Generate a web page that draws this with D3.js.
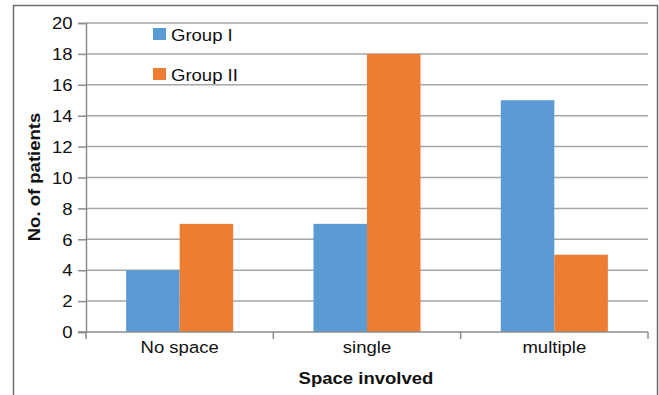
<!DOCTYPE html>
<html>
<head>
<meta charset="utf-8">
<script src="https://cdn.jsdelivr.net/npm/d3@7"></script>
<style>
  html, body { margin: 0; padding: 0; background: #fff; }
  svg { display: block; font-family: "Liberation Sans", Arial, sans-serif; }
</style>
</head>
<body>
<svg id="chart" width="659" height="395"></svg>
<script>
// Patient counts by number of spaces involved
const categories = ["No space", "single", "multiple"];
const seriesNames = ["Group I", "Group II"];
const groupI = [4, 7, 15];
const groupII = [7, 18, 5];
const yTicks = [0, 2, 4, 6, 8, 10, 12, 14, 16, 18, 20];

const colors = ["#5B9BD5", "#ED7D31"];
const series = [groupI, groupII];
const fontSize = 17;
const stretch = 1.09; // text is drawn slightly wide

const svg = d3.select("#chart");
const plot = { left: 86, right: 648, top: 23, bottom: 332 };

// place a text at (x, y) with the horizontal stretch applied
function label(parent, x, y, str, opts = {}) {
  const t = parent.append("text")
    .attr("transform", `translate(${x},${y})${opts.rotate ? " rotate(-90)" : ""} scale(${stretch},1)`)
    .attr("text-anchor", opts.anchor || "start")
    .attr("font-size", fontSize)
    .attr("fill", "#111")
    .text(str);
  if (opts.bold) t.attr("font-weight", "bold");
  return t;
}

// outer frame (open at the bottom)
svg.append("path")
  .attr("d", "M13.5,395 L13.5,5.5 L657.5,5.5 L657.5,395")
  .attr("fill", "none")
  .attr("stroke", "#6b6b6b")
  .attr("stroke-width", 1.5);

const x = d3.scaleBand().domain(categories).range([plot.left, plot.right]).padding(0);
const inner = d3.scaleBand().domain(seriesNames).range([0, x.bandwidth()])
  .paddingInner(0).paddingOuter(0.75);
const y = d3.scaleLinear().domain([0, 20]).range([plot.bottom, plot.top]);

// horizontal gridlines
svg.append("g").selectAll("line").data(yTicks.filter(d => d > 0)).join("line")
  .attr("x1", plot.left).attr("x2", plot.right)
  .attr("y1", d => y(d)).attr("y2", d => y(d))
  .attr("stroke", "#a6a6a6").attr("stroke-width", 1.5);

// bars
seriesNames.forEach((name, si) => {
  svg.append("g").selectAll("rect").data(categories).join("rect")
    .attr("x", c => x(c) + inner(name))
    .attr("width", inner.bandwidth())
    .attr("y", (c, i) => y(series[si][i]))
    .attr("height", (c, i) => y(0) - y(series[si][i]))
    .attr("fill", colors[si]);
});

// y axis
const yAxis = d3.axisLeft(y).tickValues(yTicks).tickSize(8).tickPadding(5).tickFormat(d3.format("d"));
const gy = svg.append("g").attr("transform", `translate(${plot.left},0)`).call(yAxis);
gy.select(".domain").attr("stroke", "#8c8c8c").attr("stroke-width", 1.5);
gy.selectAll(".tick line").attr("stroke", "#8c8c8c").attr("stroke-width", 1.5);
gy.selectAll(".tick text")
  .attr("font-size", fontSize).attr("fill", "#111")
  .attr("font-family", "Liberation Sans, Arial, sans-serif")
  .attr("x", -13.5 / stretch)
  .attr("dy", "0.34em")
  .attr("transform", `scale(${stretch},1)`);

// x axis with ticks at category boundaries
const gx = svg.append("g").attr("transform", `translate(0,${plot.bottom})`);
gx.append("line").attr("x1", plot.left - 8).attr("x2", plot.right)
  .attr("stroke", "#8c8c8c").attr("stroke-width", 1.5);
const bounds = categories.map(c => x(c)).concat([x(categories[categories.length - 1]) + x.bandwidth()]);
gx.selectAll("line.tk").data(bounds).join("line").attr("class", "tk")
  .attr("x1", d => d).attr("x2", d => d).attr("y1", 0).attr("y2", 7)
  .attr("stroke", "#8c8c8c").attr("stroke-width", 1.5);
categories.forEach(c => label(gx, x(c) + x.bandwidth() / 2, 20.5, c, { anchor: "middle" }));

// axis titles
label(svg, 366, 384, "Space involved", { anchor: "middle", bold: true });
label(svg, 40, 177, "No. of patients", { anchor: "middle", bold: true, rotate: true })
  .attr("transform", `translate(40,177) rotate(-90) scale(${stretch},1)`);

// legend
const legend = svg.append("g").attr("transform", "translate(153,28)");
seriesNames.forEach((name, i) => {
  const g = legend.append("g").attr("transform", `translate(0,${i * 40})`);
  g.append("rect").attr("width", 13).attr("height", 12).attr("fill", colors[i]);
  label(g, 18, 12.5, name);
});
</script>
</body>
</html>
